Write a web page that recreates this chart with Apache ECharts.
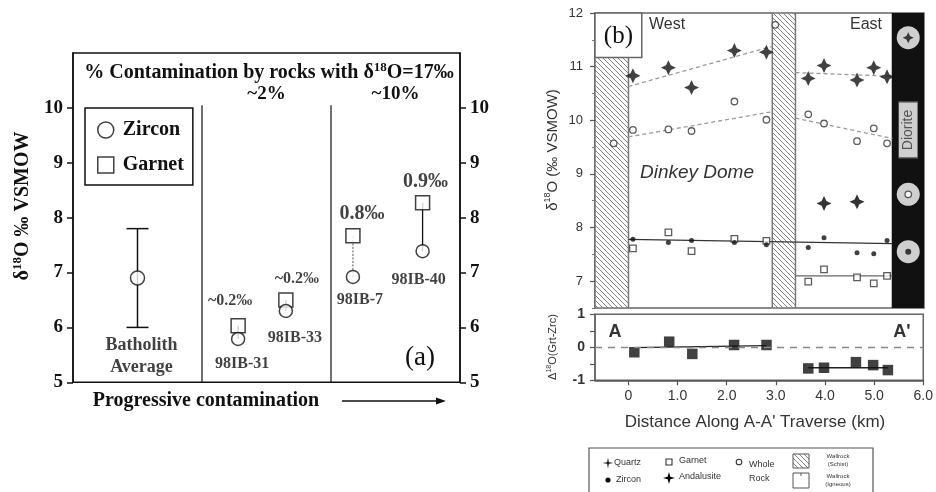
<!DOCTYPE html>
<html>
<head>
<meta charset="utf-8">
<script src="https://cdn.jsdelivr.net/npm/echarts@6.0.0/dist/echarts.min.js"></script>
<style>
html,body{margin:0;padding:0;background:#fff;}
#chart{width:936px;height:492px;}
</style>
</head>
<body>
<div id="chart"></div>
<script>
// ================= Panel (a) data =================
const samplesA = ['98IB-31', '98IB-33', '98IB-7', '98IB-40'];
const samplePosA = [1.28, 1.65, 2.17, 2.71];
const zirconA = [5.79, 6.30, 6.92, 7.39];
const garnetA = [6.03, 6.50, 7.67, 8.27];
const deltaLabelsA = ['~0.2‰', '~0.2‰', '0.8‰', '0.9‰'];
const batholithPos = [0.5];
const batholithMean = [6.9];
const batholithLow = [6.0];
const batholithHigh = [7.8];
const groupBounds = [1, 2];
const groupCenters = [1.5, 2.5];
const groupLabels = ['~2%', '~10%'];
const yTicksA = [5, 6, 7, 8, 9, 10];

// ================= Panel (b) data =================
const westX = [0.09, 0.81, 1.28, 2.15, 2.80];
const eastX = [3.65, 3.97, 4.64, 4.98, 5.25];
const quartzWest = [10.83, 10.98, 10.61, 11.30, 11.27];
const quartzEast = [10.78, 11.02, 10.75, 10.98, 10.81];
const wholeRockWest = [9.82, 9.83, 9.80, 10.35, 10.01];
const wholeRockEast = [10.11, 9.94, 9.61, 9.85, 9.57];
const wholeRockWallX = [-0.30, 2.98];
const wholeRockWall = [9.57, 11.78];
const zirconWest = [7.78, 7.72, 7.76, 7.72, 7.68];
const zirconEast = [7.63, 7.81, 7.53, 7.51, 7.76];
const garnetWest = [7.61, 7.91, 7.56, 7.79, 7.75];
const garnetEast = [6.99, 7.22, 7.07, 6.96, 7.10];
const andalusiteX = [3.97, 4.64];
const andalusite = [8.45, 8.48];
const deltaWestX = [0.12, 0.83, 1.30, 2.15, 2.81];
const deltaWest = [-0.15, 0.17, -0.20, 0.07, 0.07];
const deltaEastX = [3.66, 3.98, 4.63, 4.98, 5.28];
const deltaEast = [-0.64, -0.62, -0.45, -0.54, -0.69];
const dioriteX = 5.68;
const dioriteQuartz = 11.54;
const dioriteWholeRock = 8.62;
const dioriteZircon = 7.55;
const quartzTrendWest = [[0, 10.63], [2.92, 11.38]];
const wholeRockTrendWest = [[0, 9.69], [2.92, 10.16]];
const quartzTrendEast = [[3.39, 10.89], [5.36, 10.82]];
const wholeRockTrendEast = [[3.39, 10.04], [5.36, 9.66]];
const zirconTrend = [[0, 7.78], [5.36, 7.70]];
const garnetTrendEast = [[3.39, 7.10], [5.36, 7.10]];
const deltaTrendWest = [[0.12, -0.01], [2.81, 0.05]];
const deltaTrendEast = [[3.66, -0.62], [5.28, -0.62]];
const schistZones = [[-0.68, 0], [2.92, 3.39]];
const dioriteZone = [[5.36, 6.0]];
const xTicksB = [0, 1, 2, 3, 4, 5, 6];
const yTicksB = [7, 8, 9, 10, 11, 12];
const yMinorTicksB = [6.5, 7.5, 8.5, 9.5, 10.5, 11.5];

const xMinB = -0.68, xMaxB = 6.0, yMinB = 6.5, yMaxB = 12;

// ================= styles =================
const SERIF = '"Liberation Serif", "Times New Roman", serif';
const SANS = '"Liberation Sans", Arial, sans-serif';
const INK = '#111';
const GREY = '#333';

function hatchCanvas() {
  const c = document.createElement('canvas');
  c.width = 5; c.height = 5;
  const g = c.getContext('2d');
  g.fillStyle = '#fff'; g.fillRect(0, 0, 5, 5);
  g.strokeStyle = '#828282'; g.lineWidth = 1;
  g.beginPath();
  for (let k = -1; k <= 1; k++) { g.moveTo(k * 5 - 1, -1); g.lineTo(k * 5 + 6, 6); }
  g.stroke();
  return c;
}
const hatch = { image: hatchCanvas(), repeat: 'repeat' };
const STAR = 'path://M0,-10 L3.2,-3.2 L10,0 L3.2,3.2 L0,10 L-3.2,3.2 L-10,0 L-3.2,-3.2 Z';

function starPts(cx, cy, R, r) {
  const pts = [];
  for (let i = 0; i < 8; i++) {
    const a = i * Math.PI / 4 - Math.PI / 2;
    const rad = i % 2 === 0 ? R : r;
    pts.push([cx + rad * Math.cos(a), cy + rad * Math.sin(a)]);
  }
  return pts;
}

const nameLab = [{ dx: 4, dist: 10 }, { dx: 9, dist: 12 }, { dx: 7, dist: 8 }, { dx: -4, dist: 13 }];
const deltaLab = [{ dx: -8, dist: 9, fs: 16 }, { dx: 11, dist: 5, fs: 16 }, { dx: 9, dist: 4, fs: 20 }, { dx: 3, dist: 3, fs: 20 }];

function zoneRender(fill, stroke) {
  return function (params, api) {
    const p0 = api.coord([api.value(0), yMaxB]);
    const p1 = api.coord([api.value(1), yMinB]);
    return {
      type: 'rect',
      shape: { x: p0[0], y: p0[1], width: p1[0] - p0[0], height: p1[1] - p0[1] },
      style: { fill: fill, stroke: stroke, lineWidth: 1.5 }
    };
  };
}

const chart = echarts.init(document.getElementById('chart'), null, { renderer: 'canvas' });

const option = {
  animation: false,
  backgroundColor: '#fff',
  grid: [
    { left: 73, top: 53, width: 387, height: 329.3, show: true, borderColor: INK, borderWidth: 1.5 },
    { left: 595, top: 13, width: 329, height: 295, show: true, borderColor: '#666', borderWidth: 1.5 },
    { left: 595, top: 314.3, width: 329, height: 66, show: true, borderColor: '#666', borderWidth: 1.5 }
  ],
  legend: {
    left: 85, top: 108, orient: 'vertical',
    padding: [12, 9, 10, 12], itemGap: 15, itemWidth: 16, itemHeight: 16,
    borderColor: INK, borderWidth: 1.5, backgroundColor: '#fff',
    selectedMode: false,
    data: [{ name: 'Zircon', icon: 'circle' }, { name: 'Garnet', icon: 'rect' }],
    itemStyle: { color: '#fff', borderColor: INK, borderWidth: 1.5 },
    textStyle: { fontFamily: SERIF, fontWeight: 'bold', fontSize: 20, color: INK, lineHeight: 16, padding: [0, 0, 0, 4] }
  },
  xAxis: [
    { gridIndex: 0, type: 'value', min: 0, max: 3, show: false },
    { gridIndex: 1, type: 'value', min: xMinB, max: xMaxB, show: false },
    {
      gridIndex: 2, type: 'value', min: xMinB, max: xMaxB,
      axisLine: { show: true, onZero: false, lineStyle: { color: '#555', width: 1.5 } },
      axisTick: { show: true, customValues: xTicksB, length: 5, lineStyle: { color: '#555', width: 1.2 } },
      axisLabel: { customValues: xTicksB, formatter: v => (v === 0 ? '0' : v.toFixed(1)), fontFamily: SANS, fontSize: 14, color: GREY, margin: 9 },
      splitLine: { show: false }
    }
  ],
  yAxis: [
    {
      gridIndex: 0, type: 'value', position: 'left', min: 5, max: 11,
      axisLine: { show: true, onZero: false, lineStyle: { color: INK, width: 1.5 } },
      axisTick: { show: true, customValues: yTicksA, length: 6, lineStyle: { color: INK, width: 1.5 } },
      axisLabel: { customValues: yTicksA, fontFamily: SERIF, fontWeight: 'bold', fontSize: 19, color: INK, margin: 10 },
      splitLine: { show: false }
    },
    {
      gridIndex: 0, type: 'value', position: 'right', min: 5, max: 11,
      axisLine: { show: true, onZero: false, lineStyle: { color: INK, width: 1.5 } },
      axisTick: { show: true, customValues: yTicksA, length: 6, lineStyle: { color: INK, width: 1.5 } },
      axisLabel: { customValues: yTicksA, fontFamily: SERIF, fontWeight: 'bold', fontSize: 19, color: INK, margin: 10 },
      splitLine: { show: false }
    },
    {
      gridIndex: 1, type: 'value', position: 'left', min: yMinB, max: yMaxB,
      axisLine: { show: true, onZero: false, lineStyle: { color: '#666', width: 1.5 } },
      axisTick: { show: true, customValues: yTicksB, length: 5, lineStyle: { color: '#555', width: 1.2 } },
      axisLabel: { customValues: yTicksB, fontFamily: SANS, fontSize: 13, color: GREY, margin: 12 },
      splitLine: { show: false }
    },
    {
      gridIndex: 1, type: 'value', position: 'left', min: yMinB, max: yMaxB,
      axisLine: { show: false, onZero: false },
      axisTick: { show: true, customValues: yMinorTicksB, length: 3, lineStyle: { color: '#777', width: 1 } },
      axisLabel: { show: false },
      splitLine: { show: false }
    },
    {
      gridIndex: 2, type: 'value', position: 'left', min: -1, max: 1, interval: 0.5,
      axisLine: { show: true, onZero: false, lineStyle: { color: '#666', width: 1.5 } },
      axisTick: { show: true, length: 5, lineStyle: { color: '#555', width: 1.2 } },
      axisLabel: { formatter: v => (Math.abs(v % 1) < 1e-9 ? String(v) : ''), fontFamily: SANS, fontWeight: 'bold', fontSize: 14, color: GREY, margin: 10 },
      splitLine: { show: false }
    }
  ],
  series: [
    // ---------------- Panel (a) ----------------
    {
      name: 'dividers', type: 'custom', xAxisIndex: 0, yAxisIndex: 0, z: 1, silent: true,
      data: groupBounds.map(b => [b, 5, 10.05]),
      renderItem: (p, api) => {
        const a = api.coord([api.value(0), api.value(1)]);
        const b = api.coord([api.value(0), api.value(2)]);
        return { type: 'line', shape: { x1: a[0], y1: a[1], x2: b[0], y2: b[1] }, style: { stroke: INK, lineWidth: 1.2 } };
      }
    },
    {
      name: 'groupLabels', type: 'custom', xAxisIndex: 0, yAxisIndex: 0, z: 3, silent: true,
      data: groupCenters.map((c, i) => [c, 10.25, i]),
      renderItem: (p, api) => {
        const pt = api.coord([api.value(0), api.value(1)]);
        return { type: 'text', x: pt[0], y: pt[1], style: { text: groupLabels[api.value(2)], font: 'bold 19px ' + SERIF, fill: INK, textAlign: 'center', textVerticalAlign: 'middle' } };
      }
    },
    {
      name: 'errorBar', type: 'custom', xAxisIndex: 0, yAxisIndex: 0, z: 2, silent: true,
      data: batholithPos.map((x, i) => [x, batholithLow[i], batholithHigh[i]]),
      renderItem: (p, api) => {
        const x = api.value(0);
        const lo = api.coord([x, api.value(1)]), hi = api.coord([x, api.value(2)]);
        const hw = 11, st = { stroke: INK, lineWidth: 1.5 };
        return {
          type: 'group', children: [
            { type: 'line', shape: { x1: lo[0], y1: lo[1], x2: hi[0], y2: hi[1] }, style: st },
            { type: 'line', shape: { x1: lo[0] - hw, y1: lo[1], x2: lo[0] + hw, y2: lo[1] }, style: st },
            { type: 'line', shape: { x1: hi[0] - hw, y1: hi[1], x2: hi[0] + hw, y2: hi[1] }, style: st }
          ]
        };
      }
    },
    {
      name: 'connectors', type: 'custom', xAxisIndex: 0, yAxisIndex: 0, z: 2, silent: true,
      data: samplePosA.map((x, i) => [x, zirconA[i], garnetA[i], i]),
      renderItem: (p, api) => {
        const x = api.value(0);
        const a = api.coord([x, api.value(1)]), b = api.coord([x, api.value(2)]);
        const dotted = samplesA[api.value(3)] === '98IB-7';
        return { type: 'line', shape: { x1: a[0], y1: a[1], x2: b[0], y2: b[1] }, style: { stroke: dotted ? '#555' : INK, lineWidth: dotted ? 1 : 1.3, lineDash: dotted ? [2, 1.5] : null } };
      }
    },
    {
      name: 'Batholith Average', type: 'scatter', xAxisIndex: 0, yAxisIndex: 0, z: 4,
      symbol: 'circle', symbolSize: 14,
      itemStyle: { color: '#fff', borderColor: INK, borderWidth: 1.5 },
      data: batholithPos.map((x, i) => [x, batholithMean[i]]),
      label: {
        show: true, position: 'bottom', distance: 49, offset: [4, 0],
        formatter: 'Batholith\nAverage', fontFamily: SERIF, fontWeight: 'bold', fontSize: 18, lineHeight: 22, color: INK
      }
    },
    {
      name: 'Garnet', type: 'scatter', xAxisIndex: 0, yAxisIndex: 0, z: 4,
      symbol: 'rect', symbolSize: 14,
      itemStyle: { color: '#fff', borderColor: INK, borderWidth: 1.5 },
      data: samplePosA.map((x, i) => ({
        value: [x, garnetA[i]],
        label: { show: true, position: 'top', distance: deltaLab[i].dist, offset: [deltaLab[i].dx, 0], formatter: deltaLabelsA[i], fontSize: deltaLab[i].fs }
      })),
      label: { fontFamily: SERIF, fontWeight: 'bold', color: INK }
    },
    {
      name: 'Zircon', type: 'scatter', xAxisIndex: 0, yAxisIndex: 0, z: 5,
      symbol: 'circle', symbolSize: 13,
      itemStyle: { color: '#fff', borderColor: INK, borderWidth: 1.5 },
      data: samplePosA.map((x, i) => ({
        value: [x, zirconA[i]],
        label: { show: true, position: 'bottom', distance: nameLab[i].dist, offset: [nameLab[i].dx, 0], formatter: samplesA[i] }
      })),
      label: { fontFamily: SERIF, fontWeight: 'bold', fontSize: 16, color: INK }
    },

    // ---------------- Panel (b) upper ----------------
    {
      name: 'schist', type: 'custom', xAxisIndex: 1, yAxisIndex: 2, z: 1, silent: true, clip: true,
      data: schistZones, renderItem: zoneRender(hatch, '#777')
    },
    {
      name: 'diorite zone', type: 'custom', xAxisIndex: 1, yAxisIndex: 2, z: 1, silent: true, clip: true,
      data: dioriteZone, renderItem: zoneRender('#111', '#111')
    },
    {
      name: 'bBox', type: 'custom', xAxisIndex: 1, yAxisIndex: 2, z: 6, silent: true,
      data: [[-0.68, 0.27, 11.17]],
      renderItem: (p, api) => {
        const a = api.coord([api.value(0), yMaxB]);
        const b = api.coord([api.value(1), api.value(2)]);
        return {
          type: 'group', children: [
            { type: 'rect', shape: { x: a[0], y: a[1], width: b[0] - a[0], height: b[1] - a[1] }, style: { fill: '#fff', stroke: '#666', lineWidth: 1.5 } },
            { type: 'text', x: (a[0] + b[0]) / 2, y: (a[1] + b[1]) / 2 + 1, style: { text: '(b)', font: '25px ' + SERIF, fill: INK, textAlign: 'center', textVerticalAlign: 'middle' } }
          ]
        };
      }
    },
    ...[[quartzTrendWest, 'qtw'], [wholeRockTrendWest, 'wrtw'], [quartzTrendEast, 'qte'], [wholeRockTrendEast, 'wrte']].map(([d, n]) => ({
      name: n, type: 'line', xAxisIndex: 1, yAxisIndex: 2, z: 2, silent: true, symbol: 'none',
      lineStyle: { color: '#9a9a9a', width: 1.3, type: [4, 3] }, data: d
    })),
    {
      name: 'zircon trend', type: 'line', xAxisIndex: 1, yAxisIndex: 2, z: 2, silent: true, symbol: 'none',
      lineStyle: { color: '#333', width: 1.4 }, data: zirconTrend
    },
    {
      name: 'garnet trend', type: 'line', xAxisIndex: 1, yAxisIndex: 2, z: 2, silent: true, symbol: 'none',
      lineStyle: { color: '#666', width: 1.3 }, data: garnetTrendEast
    },
    {
      name: 'Quartz', type: 'scatter', xAxisIndex: 1, yAxisIndex: 2, z: 4,
      symbol: STAR, symbolSize: 15, itemStyle: { color: '#111' },
      data: westX.map((x, i) => [x, quartzWest[i]]).concat(eastX.map((x, i) => [x, quartzEast[i]]))
    },
    {
      name: 'Andalusite', type: 'scatter', xAxisIndex: 1, yAxisIndex: 2, z: 4,
      symbol: STAR, symbolSize: 15, itemStyle: { color: '#000' },
      data: andalusiteX.map((x, i) => [x, andalusite[i]])
    },
    {
      name: 'Whole Rock', type: 'scatter', xAxisIndex: 1, yAxisIndex: 2, z: 4,
      symbol: 'circle', symbolSize: 6.5, itemStyle: { color: '#fff', borderColor: '#333', borderWidth: 1.3 },
      data: westX.map((x, i) => [x, wholeRockWest[i]])
        .concat(eastX.map((x, i) => [x, wholeRockEast[i]]))
        .concat(wholeRockWallX.map((x, i) => [x, wholeRockWall[i]]))
    },
    {
      name: 'Garnet (b)', type: 'scatter', xAxisIndex: 1, yAxisIndex: 2, z: 4,
      symbol: 'rect', symbolSize: 6.5, itemStyle: { color: '#fff', borderColor: '#333', borderWidth: 1.3 },
      data: westX.map((x, i) => [x, garnetWest[i]]).concat(eastX.map((x, i) => [x, garnetEast[i]]))
    },
    {
      name: 'Zircon (b)', type: 'scatter', xAxisIndex: 1, yAxisIndex: 2, z: 5,
      symbol: 'circle', symbolSize: 5, itemStyle: { color: '#111' },
      data: westX.map((x, i) => [x, zirconWest[i]]).concat(eastX.map((x, i) => [x, zirconEast[i]]))
    },
    {
      name: 'Diorite discs', type: 'scatter', xAxisIndex: 1, yAxisIndex: 2, z: 5, silent: true,
      symbol: 'circle', symbolSize: 23, itemStyle: { color: '#fff' },
      data: [[dioriteX, dioriteQuartz], [dioriteX, dioriteWholeRock], [dioriteX, dioriteZircon]]
    },
    {
      name: 'Diorite quartz', type: 'scatter', xAxisIndex: 1, yAxisIndex: 2, z: 6, silent: true,
      symbol: STAR, symbolSize: 11, itemStyle: { color: '#111' }, data: [[dioriteX, dioriteQuartz]]
    },
    {
      name: 'Diorite whole rock', type: 'scatter', xAxisIndex: 1, yAxisIndex: 2, z: 6, silent: true,
      symbol: 'circle', symbolSize: 6.5, itemStyle: { color: '#fff', borderColor: '#333', borderWidth: 1.3 }, data: [[dioriteX, dioriteWholeRock]]
    },
    {
      name: 'Diorite zircon', type: 'scatter', xAxisIndex: 1, yAxisIndex: 2, z: 6, silent: true,
      symbol: 'circle', symbolSize: 6, itemStyle: { color: '#111' }, data: [[dioriteX, dioriteZircon]]
    },
    {
      name: 'Diorite label', type: 'scatter', xAxisIndex: 1, yAxisIndex: 2, z: 6, silent: true,
      symbol: 'rect', symbolSize: [19, 56], itemStyle: { color: '#fff', borderColor: '#555', borderWidth: 1 },
      data: [[dioriteX, 9.82]],
      label: { show: true, position: 'inside', rotate: 90, formatter: 'Diorite', fontFamily: SANS, fontSize: 14, color: GREY }
    },

    // ---------------- Panel (b) lower ----------------
    {
      name: 'delta trend W', type: 'line', xAxisIndex: 2, yAxisIndex: 4, z: 2, silent: true, symbol: 'none',
      lineStyle: { color: '#222', width: 1.4 }, data: deltaTrendWest,
      markLine: {
        silent: true, symbol: 'none', label: { show: false },
        lineStyle: { color: '#888', width: 1.3, type: [7, 6] },
        data: [{ yAxis: 0 }]
      }
    },
    {
      name: 'delta trend E', type: 'line', xAxisIndex: 2, yAxisIndex: 4, z: 2, silent: true, symbol: 'none',
      lineStyle: { color: '#222', width: 1.4 }, data: deltaTrendEast
    },
    {
      name: 'Delta Grt-Zrc', type: 'scatter', xAxisIndex: 2, yAxisIndex: 4, z: 4,
      symbol: 'rect', symbolSize: 10.5, itemStyle: { color: '#111' },
      data: deltaWestX.map((x, i) => [x, deltaWest[i]]).concat(deltaEastX.map((x, i) => [x, deltaEast[i]]))
    }
  ],
  graphic: [
    // Panel (a) annotations
    {
      type: 'text', x: 269, y: 72, z: 10,
      style: {
        text: '{t|% Contamination by rocks with δ}{s|18}{t|O=17‰}',
        textAlign: 'center', textVerticalAlign: 'middle',
        rich: {
          t: { fontFamily: SERIF, fontWeight: 'bold', fontSize: 20, fill: INK, verticalAlign: 'bottom', lineHeight: 22 },
          s: { fontFamily: SERIF, fontWeight: 'bold', fontSize: 13, fill: INK, verticalAlign: 'top', lineHeight: 13 }
        }
      }
    },
    {
      type: 'text', x: 22, y: 206, rotation: Math.PI / 2, z: 10,
      style: {
        text: '{t|δ}{s|18}{t|O ‰ VSMOW}',
        textAlign: 'center', textVerticalAlign: 'middle',
        rich: {
          t: { fontFamily: SERIF, fontWeight: 'bold', fontSize: 20, fill: INK, verticalAlign: 'bottom', lineHeight: 22 },
          s: { fontFamily: SERIF, fontWeight: 'bold', fontSize: 13, fill: INK, verticalAlign: 'top', lineHeight: 13 }
        }
      }
    },
    { type: 'text', x: 420, y: 358, z: 10, style: { text: '(a)', font: '27px ' + SERIF, fill: INK, textAlign: 'center', textVerticalAlign: 'middle' } },
    { type: 'text', x: 206, y: 401, z: 10, style: { text: 'Progressive contamination', font: 'bold 20px ' + SERIF, fill: INK, textAlign: 'center', textVerticalAlign: 'middle' } },
    { type: 'line', z: 10, shape: { x1: 342, y1: 401, x2: 440, y2: 401 }, style: { stroke: INK, lineWidth: 1.3 } },
    { type: 'polygon', z: 10, shape: { points: [[446, 401], [436, 397.5], [436, 404.5]] }, style: { fill: INK } },

    // Panel (b) annotations
    { type: 'text', x: 667, y: 25, z: 10, style: { text: 'West', font: '16px ' + SANS, fill: GREY, textAlign: 'center', textVerticalAlign: 'middle' } },
    { type: 'text', x: 866, y: 25, z: 10, style: { text: 'East', font: '16px ' + SANS, fill: GREY, textAlign: 'center', textVerticalAlign: 'middle' } },
    { type: 'text', x: 697, y: 173, z: 10, style: { text: 'Dinkey Dome', font: 'italic 19px ' + SANS, fill: GREY, textAlign: 'center', textVerticalAlign: 'middle' } },
    {
      type: 'text', x: 552, y: 150, rotation: Math.PI / 2, z: 10,
      style: {
        text: '{t|δ}{s|18}{t|O (‰ VSMOW)}',
        textAlign: 'center', textVerticalAlign: 'middle',
        rich: {
          t: { fontFamily: SANS, fontSize: 15, fill: GREY, verticalAlign: 'bottom', lineHeight: 17 },
          s: { fontFamily: SANS, fontSize: 9, fill: GREY, verticalAlign: 'top', lineHeight: 9 }
        }
      }
    },
    {
      type: 'text', x: 552, y: 347, rotation: Math.PI / 2, z: 10,
      style: {
        text: '{t|Δ}{s|18}{t|O(Grt-Zrc)}',
        textAlign: 'center', textVerticalAlign: 'middle',
        rich: {
          t: { fontFamily: SANS, fontSize: 11, fill: GREY, verticalAlign: 'bottom', lineHeight: 13 },
          s: { fontFamily: SANS, fontSize: 7, fill: GREY, verticalAlign: 'top', lineHeight: 7 }
        }
      }
    },
    { type: 'text', x: 615, y: 332, z: 10, style: { text: 'A', font: 'bold 18px ' + SANS, fill: GREY, textAlign: 'center', textVerticalAlign: 'middle' } },
    { type: 'text', x: 902, y: 332, z: 10, style: { text: "A'", font: 'bold 18px ' + SANS, fill: GREY, textAlign: 'center', textVerticalAlign: 'middle' } },
    { type: 'text', x: 755, y: 422, z: 10, style: { text: "Distance Along A-A' Traverse (km)", font: '17px ' + SANS, fill: GREY, textAlign: 'center', textVerticalAlign: 'middle' } },

    // Panel (b) legend
    { type: 'rect', z: 10, shape: { x: 589, y: 448, width: 284, height: 46 }, style: { fill: '#fff', stroke: '#555', lineWidth: 1.2 } },
    { type: 'polygon', z: 11, shape: { points: starPts(608, 463, 5.5, 1.2) }, style: { fill: '#111' } },
    { type: 'text', x: 614, y: 463, z: 11, style: { text: 'Quartz', font: '9px ' + SANS, fill: GREY, textVerticalAlign: 'middle' } },
    { type: 'circle', z: 11, shape: { cx: 608, cy: 480, r: 2.6 }, style: { fill: '#111' } },
    { type: 'text', x: 616, y: 480, z: 11, style: { text: 'Zircon', font: '9px ' + SANS, fill: GREY, textVerticalAlign: 'middle' } },
    { type: 'rect', z: 11, shape: { x: 666, y: 459, width: 6, height: 6 }, style: { fill: '#fff', stroke: '#333', lineWidth: 1.1 } },
    { type: 'text', x: 679, y: 461, z: 11, style: { text: 'Garnet', font: '9px ' + SANS, fill: GREY, textVerticalAlign: 'middle' } },
    { type: 'polygon', z: 11, shape: { points: starPts(669, 478, 6, 1.9) }, style: { fill: '#000' } },
    { type: 'text', x: 679, y: 477, z: 11, style: { text: 'Andalusite', font: '9px ' + SANS, fill: GREY, textVerticalAlign: 'middle' } },
    { type: 'circle', z: 11, shape: { cx: 739, cy: 462, r: 2.8 }, style: { fill: '#fff', stroke: '#333', lineWidth: 1.1 } },
    { type: 'text', x: 749, y: 465, z: 11, style: { text: 'Whole', font: '9px ' + SANS, fill: GREY, textVerticalAlign: 'middle' } },
    { type: 'text', x: 749, y: 479, z: 11, style: { text: 'Rock', font: '9px ' + SANS, fill: GREY, textVerticalAlign: 'middle' } },
    { type: 'rect', z: 11, shape: { x: 793, y: 454, width: 16, height: 14 }, style: { fill: hatch, stroke: '#555', lineWidth: 1 } },
    { type: 'text', x: 838, y: 456, z: 11, style: { text: 'Wallrock', font: '6px ' + SANS, fill: GREY, textAlign: 'center', textVerticalAlign: 'middle' } },
    { type: 'text', x: 838, y: 464, z: 11, style: { text: '(Schist)', font: '6px ' + SANS, fill: GREY, textAlign: 'center', textVerticalAlign: 'middle' } },
    { type: 'rect', z: 11, shape: { x: 793, y: 473, width: 16, height: 15 }, style: { fill: '#fff', stroke: '#555', lineWidth: 1 } },
    { type: 'line', z: 11, shape: { x1: 801, y1: 473, x2: 801, y2: 476 }, style: { stroke: '#555', lineWidth: 1 } },
    { type: 'text', x: 838, y: 476, z: 11, style: { text: 'Wallrock', font: '6px ' + SANS, fill: GREY, textAlign: 'center', textVerticalAlign: 'middle' } },
    { type: 'text', x: 838, y: 484, z: 11, style: { text: '(Igneous)', font: '6px ' + SANS, fill: GREY, textAlign: 'center', textVerticalAlign: 'middle' } }
  ]
};
chart.setOption(option);
</script>
</body>
</html>
